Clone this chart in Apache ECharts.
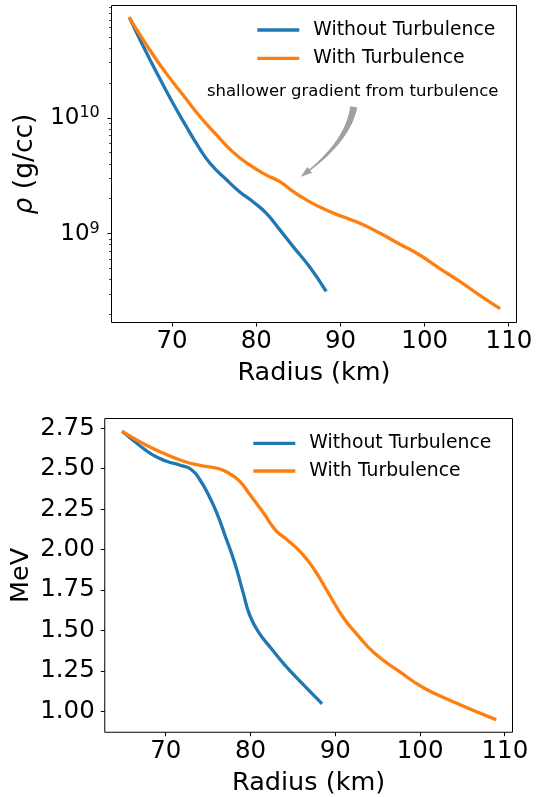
<!DOCTYPE html>
<html>
<head>
<meta charset="utf-8">
<title>Density and energy vs radius</title>
<script src="https://cdn.jsdelivr.net/npm/echarts@6/dist/echarts.min.js"></script>
<style>
  html, body { margin: 0; padding: 0; background: #fff; }
  #main { width: 542px; height: 797px; }
</style>
</head>
<body>
<div id="main"></div>
<script>
// top panel: density in g/cc (log scale)
const rhoRadiusNoTurb = [65, 66.6, 68.3, 70.1, 71.7, 72.9, 74.5, 76.5, 78.0, 79.6, 81.2, 82.8, 84.4, 86.3, 88.2];
const rhoNoTurb = [7.2e10, 4.13e10, 2.36e10, 1.34e10, 8.4e9, 6.0e9, 4.06e9, 2.91e9, 2.31e9, 1.89e9, 1.50e9, 1.08e9, 7.7e8, 5.2e8, 3.26e8];
const rhoRadiusTurb = [65, 67.35, 69.3, 71.3, 73.3, 75.3, 77.2, 79.2, 81.2, 82.8, 84.4, 86.0, 88.3, 90.3, 92.3, 94.7, 97.0, 99.4, 101.8, 104.2, 106.5, 108.8];
const rhoTurb = [7.2e10, 3.87e10, 2.43e10, 1.58e10, 1.03e10, 7.1e9, 5.1e9, 3.93e9, 3.21e9, 2.82e9, 2.31e9, 1.95e9, 1.60e9, 1.40e9, 1.23e9, 1.01e9, 8.15e8, 6.55e8, 5.0e8, 3.85e8, 2.95e8, 2.29e8];

// bottom panel: mean energy in MeV
const eRadiusNoTurb = [65, 66.8, 68.4, 70.1, 71.7, 73.0, 74.0, 75.0, 76.0, 77.0, 78.1, 79.1, 79.9, 80.9, 82.4, 84.0, 86.0, 88.3];
const eNoTurb = [2.725, 2.648, 2.587, 2.546, 2.521, 2.495, 2.433, 2.342, 2.229, 2.086, 1.923, 1.739, 1.596, 1.494, 1.392, 1.29, 1.178, 1.055];
const eRadiusTurb = [65, 67.6, 70.1, 72.1, 74.2, 76.2, 77.5, 78.7, 79.9, 81.5, 83.0, 84.2, 86.1, 87.7, 89.1, 91.0, 92.6, 94.6, 97.5, 100.4, 103.7, 108.8];
const eTurb = [2.725, 2.648, 2.587, 2.546, 2.519, 2.501, 2.470, 2.423, 2.342, 2.229, 2.117, 2.066, 1.974, 1.862, 1.739, 1.576, 1.474, 1.361, 1.249, 1.147, 1.065, 0.953];

// ticks
const radiusTicks = [70, 80, 90, 100, 110];
const rhoMajorTicks = [1e9, 1e10];
const rhoMinorTicks = [2e8, 3e8, 4e8, 5e8, 6e8, 7e8, 8e8, 9e8,
  2e9, 3e9, 4e9, 5e9, 6e9, 7e9, 8e9, 9e9,
  2e10, 3e10, 4e10, 5e10, 6e10, 7e10, 8e10, 9e10];
const energyTicks = [1.00, 1.25, 1.50, 1.75, 2.00, 2.25, 2.50, 2.75];

// axis ranges
const radiusRange = [62.8, 110.9];
const rhoRange = [1.71e8, 9.38e10];
const energyRange = [0.872, 2.81];

// annotation (data coords)
const noteText = 'shallower gradient from turbulence';
const notePos = [91.45, 1.69e10];
const arrowFrom = [91.57, 1.25e10];
const arrowTo = [85.28, 3.11e9];

const FONT = 'DejaVu Sans';
const BLUE = '#1f77b4';
const ORANGE = '#ff7f0e';

const zip = (a, b) => a.map((v, i) => [v, b[i]]);
const crisp = (v) => Math.round(v - 0.5) + 0.5;

function xTickItem(params, api) {
  const p = api.coord([api.value(0), api.value(1)]);
  const x = crisp(p[0]);
  return {
    type: 'group',
    children: [
      { type: 'line', shape: { x1: x, y1: p[1], x2: x, y2: p[1] + 4 }, style: { stroke: '#000', lineWidth: 1 } },
      { type: 'text', x: p[0], y: p[1] + 19.4,
        style: { text: String(api.value(0)), fontSize: 24.5, fontFamily: FONT, fill: '#000', align: 'center', verticalAlign: 'middle' } }
    ]
  };
}

function energyTickItem(params, api) {
  const p = api.coord([api.value(0), api.value(1)]);
  const y = crisp(p[1]);
  return {
    type: 'group',
    children: [
      { type: 'line', shape: { x1: p[0] - 4, y1: y, x2: p[0], y2: y }, style: { stroke: '#000', lineWidth: 1 } },
      { type: 'text', x: p[0] - 10, y: p[1],
        style: { text: api.value(1).toFixed(2), fontSize: 24.5, fontFamily: FONT, fill: '#000', align: 'right', verticalAlign: 'middle' } }
    ]
  };
}

function rhoTickItem(params, api) {
  const p = api.coord([api.value(0), api.value(1)]);
  const y = crisp(p[1]);
  const major = api.value(2) === 1;
  const children = [
    { type: 'line', shape: { x1: p[0] - (major ? 4 : 2.5), y1: y, x2: p[0], y2: y },
      style: { stroke: '#000', lineWidth: major ? 1 : 0.7 } }
  ];
  if (major) {
    const exp = Math.round(Math.log10(api.value(1)));
    children.push({
      type: 'text', x: p[0] - 11.7, y: p[1],
      style: {
        text: '{b|10}{s|' + exp + '}', align: 'right', verticalAlign: 'middle', fill: '#000',
        rich: {
          b: { fontSize: 23, fontFamily: FONT, lineHeight: 26, fill: '#000' },
          s: { fontSize: 16, fontFamily: FONT, lineHeight: 12, verticalAlign: 'top', fill: '#000' }
        }
      }
    });
  }
  return { type: 'group', children: children };
}

function noteItem(params, api) {
  const t = api.coord(notePos);
  const a = api.coord(arrowFrom);
  const c = api.coord(arrowTo);
  // bend control point to the right of the chord
  const b = [(a[0] + c[0]) / 2 + 20.5, (a[1] + c[1]) / 2 + 1];
  const pt = (s) => [
    (1 - s) * (1 - s) * a[0] + 2 * s * (1 - s) * b[0] + s * s * c[0],
    (1 - s) * (1 - s) * a[1] + 2 * s * (1 - s) * b[1] + s * s * c[1]
  ];
  const nrm = (s) => {
    const dx = 2 * (1 - s) * (b[0] - a[0]) + 2 * s * (c[0] - b[0]);
    const dy = 2 * (1 - s) * (b[1] - a[1]) + 2 * s * (c[1] - b[1]);
    const l = Math.hypot(dx, dy);
    return [-dy / l, dx / l];
  };
  const tHead = 0.9;
  const left = [], right = [];
  const n = 30;
  for (let i = 0; i <= n; i++) {
    const s = tHead * i / n;
    const q = pt(s), m = nrm(s);
    const w = 3.6 + (0.7 - 3.6) * (i / n);
    left.push([q[0] + m[0] * w, q[1] + m[1] * w]);
    right.push([q[0] - m[0] * w, q[1] - m[1] * w]);
  }
  const hb = pt(tHead), hm = nrm(tHead);
  const poly = left.concat([
    [hb[0] + hm[0] * 3.8, hb[1] + hm[1] * 3.8],
    c,
    [hb[0] - hm[0] * 3.8, hb[1] - hm[1] * 3.8]
  ]).concat(right.reverse());
  return {
    type: 'group',
    children: [
      { type: 'polygon', shape: { points: poly }, style: { fill: '#a0a0a0', stroke: null } },
      { type: 'text', x: t[0], y: t[1],
        style: { text: noteText, fontSize: 16.5, fontFamily: FONT, fill: '#000', align: 'center', verticalAlign: 'middle' } }
    ]
  };
}

const axisOff = { axisLine: { show: false }, axisTick: { show: false }, axisLabel: { show: false }, splitLine: { show: false } };
const nameStyle = { fontSize: 25.5, fontFamily: FONT, color: '#000', lineHeight: 25.5 };

function legendRow(name, left, top) {
  return {
    data: [name], left: left, top: top, padding: 0, orient: 'vertical',
    icon: 'rect', itemWidth: 42, itemHeight: 3.3, selectedMode: false,
    textStyle: { fontSize: 18.8, fontFamily: FONT, color: '#000', lineHeight: 20, padding: [0, 0, 0, 9] }
  };
}

const lineSeries = (name, color, xi, data) => ({
  name: name, type: 'line', xAxisIndex: xi, yAxisIndex: xi, data: data,
  showSymbol: false, smooth: 0.5, clip: true,
  lineStyle: { color: color, width: 3.3, cap: 'square' }, itemStyle: { color: color }
});

const chart = echarts.init(document.getElementById('main'), null, { renderer: 'canvas' });
chart.setOption({
  animation: false,
  backgroundColor: '#fff',
  grid: [
    { left: 111.5, top: 5.5, width: 405, height: 317, show: true, borderColor: '#000', borderWidth: 1, backgroundColor: 'transparent' },
    { left: 104.5, top: 418.5, width: 408, height: 316, show: true, borderColor: '#000', borderWidth: 1, backgroundColor: 'transparent' }
  ],
  legend: [
    legendRow('Without Turbulence', 257.3, 20),
    legendRow('With Turbulence', 257.3, 48.3),
    legendRow('Without Turbulence', 253.3, 433.3),
    legendRow('With Turbulence', 253.3, 461)
  ],
  xAxis: [
    Object.assign({ gridIndex: 0, type: 'value', min: radiusRange[0], max: radiusRange[1],
      name: 'Radius (km)', nameLocation: 'middle', nameGap: 38, nameTextStyle: nameStyle }, axisOff),
    Object.assign({ gridIndex: 1, type: 'value', min: radiusRange[0], max: radiusRange[1],
      name: 'Radius (km)', nameLocation: 'middle', nameGap: 38, nameTextStyle: nameStyle }, axisOff)
  ],
  yAxis: [
    Object.assign({ gridIndex: 0, type: 'log', min: rhoRange[0], max: rhoRange[1],
      name: '{i|ρ} (g/cc)', nameLocation: 'middle', nameGap: 73, nameRotate: 90,
      nameTextStyle: Object.assign({ rich: { i: { fontSize: 26.5, fontFamily: FONT, fontStyle: 'italic', color: '#000' } } }, nameStyle, { fontSize: 26.5, lineHeight: 26.5 }) }, axisOff),
    Object.assign({ gridIndex: 1, type: 'value', min: energyRange[0], max: energyRange[1],
      name: 'MeV', nameLocation: 'middle', nameGap: 71, nameRotate: 90, nameTextStyle: nameStyle }, axisOff)
  ],
  series: [
    lineSeries('Without Turbulence', BLUE, 0, zip(rhoRadiusNoTurb, rhoNoTurb)),
    lineSeries('With Turbulence', ORANGE, 0, zip(rhoRadiusTurb, rhoTurb)),
    lineSeries('Without Turbulence', BLUE, 1, zip(eRadiusNoTurb, eNoTurb)),
    lineSeries('With Turbulence', ORANGE, 1, zip(eRadiusTurb, eTurb)),
    { type: 'custom', xAxisIndex: 0, yAxisIndex: 0, silent: true, clip: false,
      data: radiusTicks.map(v => [v, rhoRange[0]]), renderItem: xTickItem },
    { type: 'custom', xAxisIndex: 1, yAxisIndex: 1, silent: true, clip: false,
      data: radiusTicks.map(v => [v, energyRange[0]]), renderItem: xTickItem },
    { type: 'custom', xAxisIndex: 0, yAxisIndex: 0, silent: true, clip: false,
      dimensions: ['x', 'y', 'major'], encode: { x: 0, y: 1 },
      data: rhoMajorTicks.map(v => [radiusRange[0], v, 1]).concat(rhoMinorTicks.map(v => [radiusRange[0], v, 0])),
      renderItem: rhoTickItem },
    { type: 'custom', xAxisIndex: 1, yAxisIndex: 1, silent: true, clip: false,
      data: energyTicks.map(v => [radiusRange[0], v]), renderItem: energyTickItem },
    { type: 'custom', xAxisIndex: 0, yAxisIndex: 0, silent: true, clip: false,
      data: [notePos], renderItem: noteItem }
  ]
});
</script>
</body>
</html>
